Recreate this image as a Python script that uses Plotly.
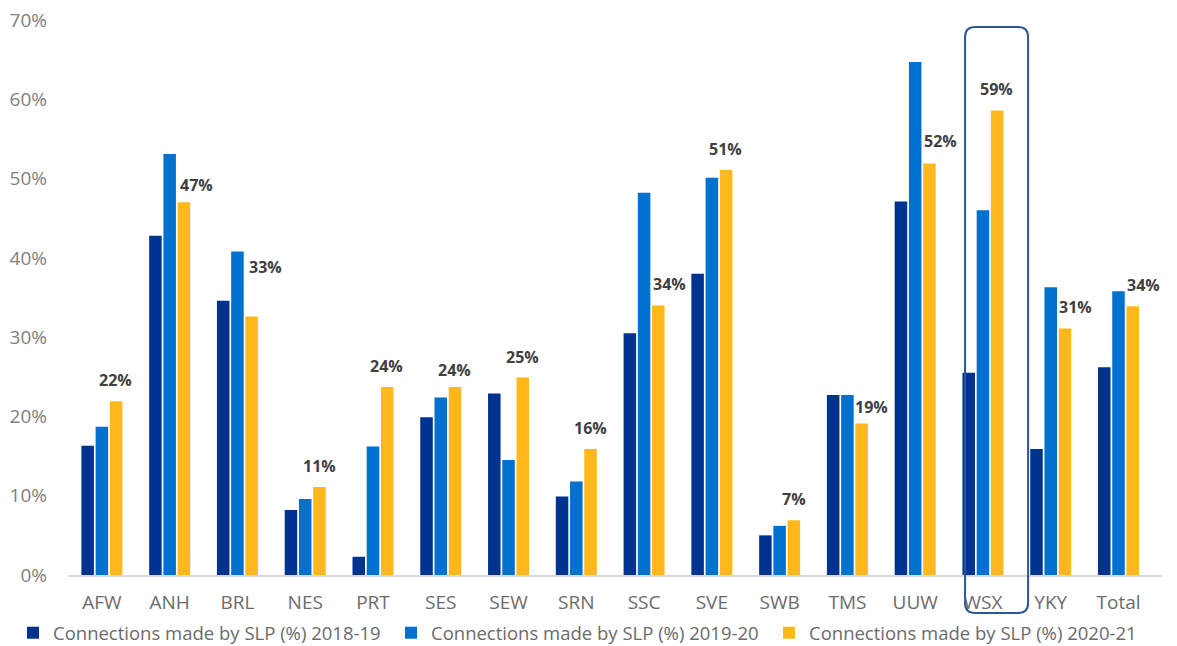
import plotly.graph_objects as go

categories = ["AFW", "ANH", "BRL", "NES", "PRT", "SES", "SEW", "SRN", "SSC",
              "SVE", "SWB", "TMS", "UUW", "WSX", "YKY", "Total"]
vals_2018_19 = [16.3, 42.8, 34.6, 8.2, 2.3, 19.9, 22.9, 9.9, 30.5,
                38.0, 5.0, 22.7, 47.1, 25.5, 15.9, 26.2]
vals_2019_20 = [18.7, 53.1, 40.8, 9.6, 16.2, 22.4, 14.5, 11.8, 48.2,
                50.1, 6.2, 22.7, 64.7, 46.0, 36.3, 35.8]
vals_2020_21 = [21.9, 47.0, 32.6, 11.1, 23.7, 23.7, 24.9, 15.9, 34.0,
                51.1, 6.9, 19.1, 51.9, 58.6, 31.1, 33.9]
series_names = ["Connections made by SLP (%) 2018-19",
                "Connections made by SLP (%) 2019-20",
                "Connections made by SLP (%) 2020-21"]
highlight = "WSX"

colors = ["#00338F", "#0071CE", "#FFB81C"]
FONT = "Open Sans"
W, H = 1177, 646
M = dict(l=68, r=15, t=20, b=71)

# label nudges (pixels) relative to the default placement above the 2020-21 bar
label_nudge = {"ANH": (13, -4), "BRL": (14, 29), "SSC": (11, 0), "TMS": (10, -4),
               "UUW": (11, 2), "YKY": (11, 0), "Total": (11, 0), "SES": (0, -4)}

fig = go.Figure()
for name, vals, col in zip(series_names, [vals_2018_19, vals_2019_20, vals_2020_21], colors):
    fig.add_trace(go.Bar(x=categories, y=vals, name=name, marker_color=col,
                         marker_line_width=0))

annotations = []
for c, v in zip(categories, vals_2020_21):
    dx, dy = label_nudge.get(c, (0, 0))
    annotations.append(dict(
        x=c, y=v, xref="x", yref="y", text=f"{round(v):d}%", showarrow=False,
        xshift=14 + dx, yshift=21 + dy, yanchor="middle", xanchor="center",
        font=dict(family=FONT, size=16, color="#404040", weight="bold")))

plot_w = W - M["l"] - M["r"]
hx = (categories.index(highlight) + 0.5) / len(categories)

fig.update_layout(
    width=W, height=H,
    margin=dict(**M, autoexpand=False),
    paper_bgcolor="white", plot_bgcolor="white",
    barmode="group", bargap=0.37, bargroupgap=0.12,
    font=dict(family=FONT, size=19, color="#6b6b6b"),
    showlegend=True,
    legend=dict(orientation="h", x=(27 - 14 - M["l"]) / plot_w, xanchor="left",
                y=-0.105, yanchor="middle",
                font=dict(family=FONT, size=18.5, color="#6b6b6b"),
                itemwidth=30, entrywidth=333, tracegroupgap=0, traceorder="normal"),
    annotations=annotations,
    shapes=[dict(
        type="path", xref="paper", yref="paper", xsizemode="pixel", ysizemode="pixel",
        xanchor=hx, yanchor=0,
        path="M -16,548 L 27,548 Q 37,548 37,538 L 37,-28 Q 37,-38 27,-38 "
             "L -16,-38 Q -26,-38 -26,-28 L -26,538 Q -26,548 -16,548 Z",
        line=dict(color="#2F5597", width=2), fillcolor="rgba(0,0,0,0)", layer="above")],
)
fig.update_xaxes(showgrid=False, showline=True, linecolor="#d9d9d9", linewidth=1.5,
                 ticks="", tickfont=dict(family=FONT, size=19, color="#6b6b6b"),
                 ticklabelstandoff=9)
fig.update_yaxes(range=[0, 70], dtick=10, ticksuffix="%", showgrid=False,
                 zeroline=False, showline=False, ticks="",
                 tickfont=dict(family=FONT, size=19, color="#808080"),
                 ticklabelstandoff=20)

fig.write_html("out.html")
